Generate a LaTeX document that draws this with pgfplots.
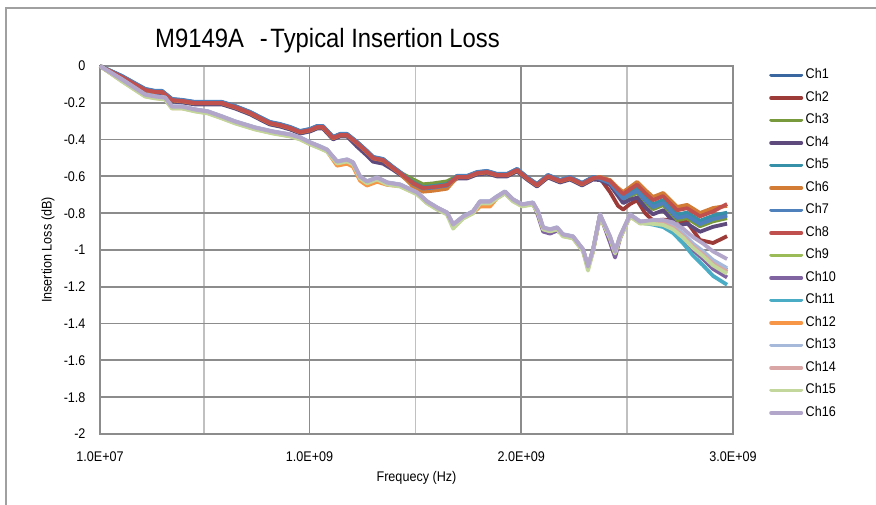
\documentclass[border=0pt]{standalone}
\usepackage{fontspec}
\setmainfont{Liberation Sans}[FakeStretch=0.9]
\usepackage{pgfplots}
\usepackage{pgfplotstable}
\pgfplotsset{compat=1.18}
\newcommand\ff{\fontsize{14}{16.8}\selectfont}
\definecolor{c1}{HTML}{3A67A0}
\definecolor{c2}{HTML}{9D3B38}
\definecolor{c3}{HTML}{789A3C}
\definecolor{c4}{HTML}{5F4A7E}
\definecolor{c5}{HTML}{3590A8}
\definecolor{c6}{HTML}{D37C36}
\definecolor{c7}{HTML}{4F81BD}
\definecolor{c8}{HTML}{C0504D}
\definecolor{c9}{HTML}{9BBB59}
\definecolor{c10}{HTML}{8064A2}
\definecolor{c11}{HTML}{4BACC6}
\definecolor{c12}{HTML}{F79646}
\definecolor{c13}{HTML}{A7B9DA}
\definecolor{c14}{HTML}{D9A6A5}
\definecolor{c15}{HTML}{C3D69B}
\definecolor{c16}{HTML}{B3A6CB}
\definecolor{gridA}{HTML}{8C8C8C}
\definecolor{gridB}{HTML}{C0C0C0}
\definecolor{frame}{HTML}{A0A0A0}
\pgfplotsset{legend image code/.code={\draw[#1, line width=3.8pt, line cap=round] (1.9pt,0pt) -- (32.1pt,0pt);}}

\pgfplotstableread{
x ch1 ch2 ch3 ch4 ch5 ch6 ch7 ch8
0.010 0 0 0 0 0 0 0 0
0.114 -0.056 -0.064 -0.057 -0.068 -0.058 -0.062 -0.054 -0.060
0.223 -0.126 -0.134 -0.127 -0.138 -0.128 -0.132 -0.124 -0.130
0.270 -0.137 -0.145 -0.138 -0.149 -0.139 -0.143 -0.135 -0.141
0.303 -0.137 -0.145 -0.138 -0.149 -0.139 -0.143 -0.135 -0.141
0.350 -0.181 -0.189 -0.182 -0.193 -0.183 -0.187 -0.179 -0.185
0.397 -0.186 -0.194 -0.187 -0.198 -0.188 -0.192 -0.184 -0.190
0.459 -0.197 -0.205 -0.198 -0.209 -0.199 -0.203 -0.195 -0.201
0.520 -0.197 -0.205 -0.198 -0.209 -0.199 -0.203 -0.195 -0.201
0.586 -0.197 -0.205 -0.198 -0.209 -0.199 -0.203 -0.195 -0.201
0.648 -0.219 -0.227 -0.220 -0.231 -0.221 -0.225 -0.217 -0.223
0.719 -0.251 -0.259 -0.252 -0.263 -0.253 -0.257 -0.249 -0.255
0.766 -0.279 -0.287 -0.280 -0.291 -0.281 -0.285 -0.277 -0.283
0.813 -0.306 -0.314 -0.307 -0.318 -0.308 -0.312 -0.304 -0.310
0.860 -0.317 -0.325 -0.318 -0.329 -0.319 -0.323 -0.315 -0.321
0.908 -0.333 -0.341 -0.334 -0.345 -0.335 -0.339 -0.331 -0.337
0.955 -0.355 -0.363 -0.356 -0.367 -0.357 -0.361 -0.353 -0.359
1.002 -0.344 -0.352 -0.345 -0.356 -0.346 -0.350 -0.342 -0.348
1.035 -0.328 -0.336 -0.329 -0.340 -0.330 -0.334 -0.326 -0.332
1.063 -0.328 -0.336 -0.329 -0.340 -0.330 -0.334 -0.326 -0.332
1.111 -0.387 -0.395 -0.388 -0.399 -0.389 -0.393 -0.385 -0.391
1.144 -0.371 -0.379 -0.372 -0.383 -0.373 -0.377 -0.369 -0.375
1.177 -0.371 -0.379 -0.372 -0.383 -0.373 -0.377 -0.369 -0.375
1.224 -0.414 -0.422 -0.415 -0.438 -0.416 -0.420 -0.412 -0.418
1.271 -0.463 -0.471 -0.464 -0.487 -0.465 -0.469 -0.461 -0.467
1.300 -0.496 -0.504 -0.497 -0.520 -0.498 -0.502 -0.494 -0.500
1.347 -0.507 -0.515 -0.508 -0.531 -0.509 -0.513 -0.505 -0.511
1.394 -0.550 -0.558 -0.551 -0.564 -0.552 -0.556 -0.548 -0.554
1.427 -0.578 -0.586 -0.579 -0.590 -0.580 -0.584 -0.576 -0.582
1.489 -0.633 -0.641 -0.616 -0.641 -0.631 -0.656 -0.639 -0.636
1.536 -0.660 -0.668 -0.643 -0.668 -0.658 -0.683 -0.666 -0.663
1.583 -0.655 -0.663 -0.638 -0.663 -0.653 -0.678 -0.661 -0.658
1.649 -0.644 -0.652 -0.627 -0.652 -0.642 -0.667 -0.650 -0.647
1.696 -0.599 -0.607 -0.600 -0.611 -0.601 -0.605 -0.597 -0.603
1.744 -0.599 -0.607 -0.600 -0.611 -0.601 -0.605 -0.597 -0.603
1.791 -0.578 -0.586 -0.579 -0.590 -0.580 -0.584 -0.576 -0.582
1.838 -0.572 -0.580 -0.573 -0.584 -0.574 -0.578 -0.570 -0.576
1.885 -0.588 -0.596 -0.589 -0.600 -0.590 -0.594 -0.586 -0.592
1.933 -0.588 -0.596 -0.589 -0.600 -0.590 -0.594 -0.586 -0.592
1.980 -0.561 -0.569 -0.562 -0.573 -0.563 -0.567 -0.559 -0.565
2.027 -0.605 -0.613 -0.606 -0.617 -0.607 -0.611 -0.603 -0.609
2.074 -0.643 -0.651 -0.644 -0.655 -0.645 -0.649 -0.641 -0.647
2.126 -0.594 -0.602 -0.595 -0.606 -0.596 -0.600 -0.592 -0.598
2.183 -0.621 -0.629 -0.622 -0.633 -0.623 -0.627 -0.619 -0.625
2.230 -0.605 -0.613 -0.606 -0.617 -0.607 -0.611 -0.603 -0.609
2.287 -0.637 -0.645 -0.638 -0.649 -0.639 -0.643 -0.635 -0.641
2.339 -0.605 -0.613 -0.606 -0.617 -0.607 -0.611 -0.603 -0.609
2.372 -0.612 -0.610 -0.615 -0.620 -0.610 -0.603 -0.613 -0.606
2.419 -0.634 -0.685 -0.638 -0.646 -0.631 -0.620 -0.635 -0.625
2.457 -0.686 -0.760 -0.693 -0.706 -0.681 -0.663 -0.688 -0.671
2.481 -0.717 -0.780 -0.727 -0.745 -0.710 -0.685 -0.720 -0.696
2.514 -0.694 -0.750 -0.706 -0.726 -0.686 -0.658 -0.698 -0.670
2.547 -0.675 -0.730 -0.690 -0.715 -0.665 -0.630 -0.680 -0.645
2.585 -0.724 -0.800 -0.740 -0.768 -0.713 -0.674 -0.729 -0.691
2.622 -0.762 -0.840 -0.778 -0.806 -0.751 -0.712 -0.767 -0.729
2.670 -0.740 -0.835 -0.756 -0.784 -0.729 -0.690 -0.745 -0.707
2.736 -0.820 -0.840 -0.838 -0.868 -0.808 -0.766 -0.826 -0.784
2.783 -0.809 -0.848 -0.827 -0.857 -0.797 -0.755 -0.815 -0.773
2.844 -0.853 -0.946 -0.871 -0.901 -0.841 -0.799 -0.859 -0.817
2.906 -0.826 -0.962 -0.844 -0.874 -0.814 -0.772 -0.832 -0.790
2.972 -0.809 -0.925 -0.827 -0.857 -0.797 -0.760 -0.815 -0.750
}\grpA

\pgfplotstableread{
x ch9 ch10 ch11 ch12 ch13 ch14 ch15 ch16
0.010 0 0 0 0 0 0 0 0
0.114 -0.080 -0.074 -0.078 -0.082 -0.072 -0.076 -0.084 -0.074
0.223 -0.162 -0.156 -0.160 -0.164 -0.154 -0.158 -0.166 -0.156
0.270 -0.172 -0.166 -0.170 -0.174 -0.164 -0.168 -0.176 -0.166
0.317 -0.178 -0.172 -0.176 -0.180 -0.170 -0.174 -0.182 -0.172
0.350 -0.227 -0.221 -0.225 -0.229 -0.219 -0.223 -0.231 -0.221
0.397 -0.227 -0.221 -0.225 -0.229 -0.219 -0.223 -0.231 -0.221
0.459 -0.243 -0.237 -0.241 -0.245 -0.235 -0.239 -0.247 -0.237
0.520 -0.254 -0.248 -0.252 -0.256 -0.246 -0.250 -0.258 -0.248
0.586 -0.281 -0.275 -0.279 -0.283 -0.273 -0.277 -0.285 -0.275
0.648 -0.308 -0.302 -0.306 -0.310 -0.300 -0.304 -0.312 -0.302
0.742 -0.341 -0.335 -0.339 -0.343 -0.333 -0.337 -0.345 -0.335
0.827 -0.363 -0.357 -0.361 -0.365 -0.355 -0.359 -0.367 -0.357
0.908 -0.379 -0.373 -0.377 -0.381 -0.371 -0.375 -0.383 -0.373
0.955 -0.395 -0.389 -0.393 -0.397 -0.387 -0.391 -0.399 -0.389
1.002 -0.422 -0.416 -0.420 -0.424 -0.414 -0.418 -0.426 -0.416
1.049 -0.444 -0.438 -0.442 -0.446 -0.436 -0.440 -0.448 -0.438
1.082 -0.461 -0.455 -0.459 -0.463 -0.453 -0.457 -0.465 -0.455
1.130 -0.526 -0.520 -0.524 -0.542 -0.518 -0.522 -0.530 -0.520
1.177 -0.515 -0.509 -0.513 -0.531 -0.507 -0.511 -0.519 -0.509
1.205 -0.531 -0.525 -0.529 -0.547 -0.523 -0.527 -0.535 -0.525
1.238 -0.607 -0.601 -0.605 -0.623 -0.599 -0.603 -0.611 -0.601
1.271 -0.634 -0.628 -0.632 -0.650 -0.626 -0.630 -0.638 -0.628
1.319 -0.613 -0.607 -0.611 -0.629 -0.605 -0.609 -0.617 -0.607
1.366 -0.640 -0.634 -0.638 -0.646 -0.632 -0.636 -0.644 -0.634
1.427 -0.651 -0.645 -0.649 -0.653 -0.643 -0.647 -0.655 -0.645
1.508 -0.694 -0.688 -0.692 -0.696 -0.686 -0.690 -0.698 -0.688
1.555 -0.743 -0.737 -0.741 -0.745 -0.735 -0.739 -0.747 -0.737
1.602 -0.776 -0.770 -0.774 -0.778 -0.768 -0.772 -0.780 -0.770
1.649 -0.803 -0.797 -0.801 -0.805 -0.795 -0.799 -0.807 -0.797
1.678 -0.868 -0.862 -0.866 -0.870 -0.860 -0.864 -0.884 -0.862
1.725 -0.825 -0.819 -0.823 -0.827 -0.817 -0.821 -0.829 -0.819
1.772 -0.797 -0.791 -0.795 -0.799 -0.789 -0.793 -0.801 -0.791
1.805 -0.743 -0.737 -0.741 -0.764 -0.735 -0.739 -0.747 -0.737
1.852 -0.743 -0.737 -0.741 -0.764 -0.735 -0.739 -0.747 -0.737
1.885 -0.716 -0.710 -0.714 -0.718 -0.708 -0.712 -0.720 -0.710
1.923 -0.689 -0.683 -0.687 -0.691 -0.681 -0.685 -0.693 -0.683
1.961 -0.732 -0.726 -0.730 -0.734 -0.724 -0.728 -0.736 -0.726
2.004 -0.759 -0.753 -0.757 -0.761 -0.751 -0.755 -0.763 -0.753
2.055 -0.749 -0.743 -0.747 -0.751 -0.741 -0.745 -0.753 -0.743
2.079 -0.797 -0.813 -0.795 -0.799 -0.789 -0.793 -0.801 -0.791
2.103 -0.884 -0.900 -0.882 -0.886 -0.876 -0.880 -0.888 -0.878
2.136 -0.895 -0.911 -0.893 -0.897 -0.887 -0.891 -0.899 -0.889
2.169 -0.884 -0.895 -0.882 -0.886 -0.876 -0.880 -0.888 -0.878
2.197 -0.922 -0.916 -0.920 -0.924 -0.914 -0.918 -0.926 -0.916
2.244 -0.933 -0.927 -0.931 -0.935 -0.925 -0.929 -0.937 -0.927
2.292 -1.004 -0.998 -1.002 -1.006 -0.996 -1.000 -1.008 -0.998
2.315 -1.096 -1.090 -1.094 -1.098 -1.088 -1.092 -1.112 -1.090
2.339 -1.004 -0.998 -1.002 -1.006 -0.996 -1.000 -1.008 -0.998
2.372 -0.814 -0.808 -0.812 -0.816 -0.806 -0.810 -0.818 -0.808
2.419 -0.933 -0.959 -0.931 -0.935 -0.925 -0.929 -0.937 -0.927
2.443 -1.015 -1.041 -1.013 -1.017 -1.007 -1.011 -1.019 -1.009
2.466 -0.933 -0.939 -0.931 -0.935 -0.925 -0.929 -0.937 -0.927
2.514 -0.814 -0.808 -0.812 -0.816 -0.806 -0.810 -0.818 -0.808
2.561 -0.852 -0.846 -0.850 -0.854 -0.844 -0.848 -0.856 -0.846
2.622 -0.853 -0.852 -0.862 -0.853 -0.843 -0.850 -0.858 -0.837
2.670 -0.859 -0.862 -0.875 -0.858 -0.848 -0.856 -0.864 -0.837
2.717 -0.881 -0.890 -0.908 -0.879 -0.869 -0.879 -0.888 -0.850
2.764 -0.925 -0.939 -0.963 -0.921 -0.911 -0.924 -0.933 -0.884
2.811 -0.981 -1.000 -1.030 -0.975 -0.965 -0.980 -0.989 -0.930
2.859 -1.025 -1.050 -1.084 -1.017 -1.007 -1.025 -1.034 -0.965
2.906 -1.075 -1.103 -1.141 -1.065 -1.055 -1.075 -1.084 -1.008
2.972 -1.119 -1.149 -1.189 -1.109 -1.099 -1.119 -1.129 -1.049
}\grpB

\begin{document}
\begin{tikzpicture}
\useasboundingbox (0,0) rectangle (876pt,505pt);
\fill[white] (0,0) rectangle (876pt,505pt);
\draw[frame, line width=1.3pt] (6pt,-10pt) |- (890pt,497pt);
\node[anchor=base west, inner sep=0pt, font=\fontsize{26.5}{31}\selectfont] at (155pt,457pt) {M9149A\hspace{0.6em}-\hspace{0.1em}Typical Insertion Loss};
\begin{axis}[
  at={(100pt,71pt)}, anchor=south west,
  scale only axis, width=633pt, height=368pt,
  xmin=0.01, xmax=3, ymin=-2, ymax=0,
  xtick={0.01,1,2,3},
  xticklabels={1.0E+07,1.0E+09,2.0E+09,3.0E+09},
  minor xtick={0.5,1.5,2.5},
  ytick={-2,-1.8,-1.6,-1.4,-1.2,-1,-0.8,-0.6,-0.4,-0.2,0},
  yticklabels={-2,-1.8,-1.6,-1.4,-1.2,-1,-0.8,-0.6,-0.4,-0.2,0},
  xmajorgrids, xminorgrids, ymajorgrids,
  major grid style={color=gridA, line width=1.8pt},
  minor grid style={color=gridB, line width=1.8pt},
  axis line style={color=gridA, line width=1.8pt},
  major tick length=0pt, minor tick length=0pt,
  tick style={draw=none},
  ticklabel style={font=\ff},
  yticklabel style={xshift=-11pt},
  xticklabel style={yshift=-14pt},
  xlabel={Frequecy (Hz)}, ylabel={Insertion Loss (dB)},
  label style={font=\ff},
  xlabel style={at={(axis description cs:0.5,-0.1196)}, anchor=center},
  ylabel style={at={(axis description cs:-0.0821,0.5)}, anchor=center},
  clip=false,
  every axis plot/.append style={line width=3.8pt, line join=round, no markers},
  legend cell align=left,
  legend style={at={(rel axis cs:1.0569,0.994)}, anchor=north west, draw=none, fill=none,
    inner sep=0pt, row sep=8.5pt, column sep=2pt, font=\ff,
    nodes={inner sep=0.5pt, text height=10pt, text depth=3pt}},
]
\addplot[c1] table[x=x,y=ch1]{\grpA}; \addlegendentry{Ch1}
\addplot[c2] table[x=x,y=ch2]{\grpA}; \addlegendentry{Ch2}
\addplot[c3] table[x=x,y=ch3]{\grpA}; \addlegendentry{Ch3}
\addplot[c4] table[x=x,y=ch4]{\grpA}; \addlegendentry{Ch4}
\addplot[c5] table[x=x,y=ch5]{\grpA}; \addlegendentry{Ch5}
\addplot[c6] table[x=x,y=ch6]{\grpA}; \addlegendentry{Ch6}
\addplot[c7] table[x=x,y=ch7]{\grpA}; \addlegendentry{Ch7}
\addplot[c8] table[x=x,y=ch8]{\grpA}; \addlegendentry{Ch8}
\addplot[c9] table[x=x,y=ch9]{\grpB}; \addlegendentry{Ch9}
\addplot[c10] table[x=x,y=ch10]{\grpB}; \addlegendentry{Ch10}
\addplot[c11] table[x=x,y=ch11]{\grpB}; \addlegendentry{Ch11}
\addplot[c12] table[x=x,y=ch12]{\grpB}; \addlegendentry{Ch12}
\addplot[c13] table[x=x,y=ch13]{\grpB}; \addlegendentry{Ch13}
\addplot[c14] table[x=x,y=ch14]{\grpB}; \addlegendentry{Ch14}
\addplot[c15] table[x=x,y=ch15]{\grpB}; \addlegendentry{Ch15}
\addplot[c16] table[x=x,y=ch16]{\grpB}; \addlegendentry{Ch16}
\end{axis}
\end{tikzpicture}
\end{document}
